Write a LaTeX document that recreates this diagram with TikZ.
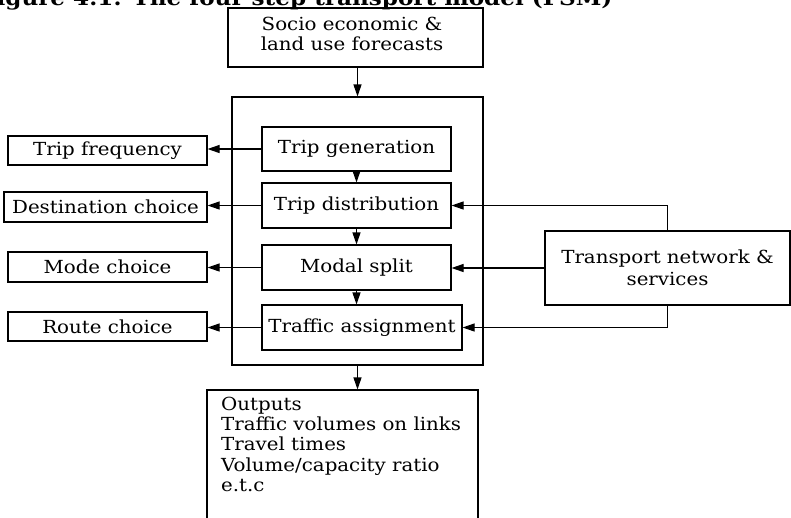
\documentclass[tikz,border=0pt]{standalone}
\usepackage{fontspec}
\setmainfont{DejaVu Serif}[FakeStretch=1.1]
\usetikzlibrary{arrows.meta}
\begin{document}
\begin{tikzpicture}[x=1pt,y=-1pt,
  box/.style={draw,line width=1.1pt,rectangle,inner sep=0pt,font=\fontsize{18}{20}\selectfont},
  txt/.style={inner sep=0pt,font=\fontsize{18}{20}\selectfont},
  arr/.style={line width=1.1pt,-{Triangle[length=12pt,width=8pt]}}]
\useasboundingbox (0,0) rectangle (791,517);
\clip (0,0) rectangle (791,517);
\fill[white] (0,0) rectangle (791,517);
\node[font=\bfseries\fontsize{21}{24}\selectfont,anchor=base west,inner sep=0pt] (title) at (-20,5.5) {Figure 4.1: The four step transport model (FSM)};
\node[box,minimum width=255pt,minimum height=59pt] (socio) at (355.5,37.5) {};
\node[txt,align=center] (sociotext) at (352,33.5) {Socio economic \&\\land use forecasts};
\node[box,minimum width=251pt,minimum height=268pt] (big) at (357.5,231) {};
\node[box,minimum width=189pt,minimum height=44pt] (gen) at (356.5,149) {Trip generation};
\node[box,minimum width=189pt,minimum height=45pt] (dist) at (356.5,205.5) {Trip distribution};
\node[box,minimum width=189pt,minimum height=45pt] (modal) at (356.5,267.5) {Modal split};
\node[box,minimum width=200pt,minimum height=45pt] (traffic) at (362,327.5) {Traffic assignment};
\node[box,minimum width=199pt,minimum height=29pt] (freq) at (107.5,150.5) {Trip frequency};
\node[box,minimum width=203pt,minimum height=30pt] (dest) at (105.5,207) {Destination choice};
\node[box,minimum width=199pt,minimum height=30pt] (mode) at (107.5,267) {Mode choice};
\node[box,minimum width=199pt,minimum height=29pt] (route) at (107.5,326.5) {Route choice};
\node[box,minimum width=245pt,minimum height=74pt,align=center,font=\fontsize{18}{22}\selectfont] (tn) at (667.5,268) {Transport network \&\\services};
\node[box,minimum width=271pt,minimum height=150pt] (out) at (342.5,465) {};
\node[txt,align=left,anchor=north west,font=\fontsize{18}{20.2}\selectfont] (outtext) at (221,397) {Outputs\\Traffic volumes on links\\Travel times\\Volume/capacity ratio\\e.t.c};
\draw[arr] (socio.south -| big.north) -- (big.north);
\draw[arr] (gen.south) -- (dist.north);
\draw[arr] (dist.south) -- (modal.north);
\draw[arr] (modal.south) -- (modal.south |- traffic.north);
\draw[arr] (big.south) -- (big.south |- out.north);
\draw[arr] (gen.west) -- (gen.west -| freq.east);
\draw[arr] (dist.west) -- (dist.west -| dest.east);
\draw[arr] (modal.west) -- (modal.west -| mode.east);
\draw[arr] (traffic.west) -- (traffic.west -| route.east);
\draw[arr] (tn.north) |- (dist.east);
\draw[arr] (tn.west) -- (tn.west -| modal.east);
\draw[arr] (tn.south) |- (traffic.east);
\end{tikzpicture}
\end{document}
